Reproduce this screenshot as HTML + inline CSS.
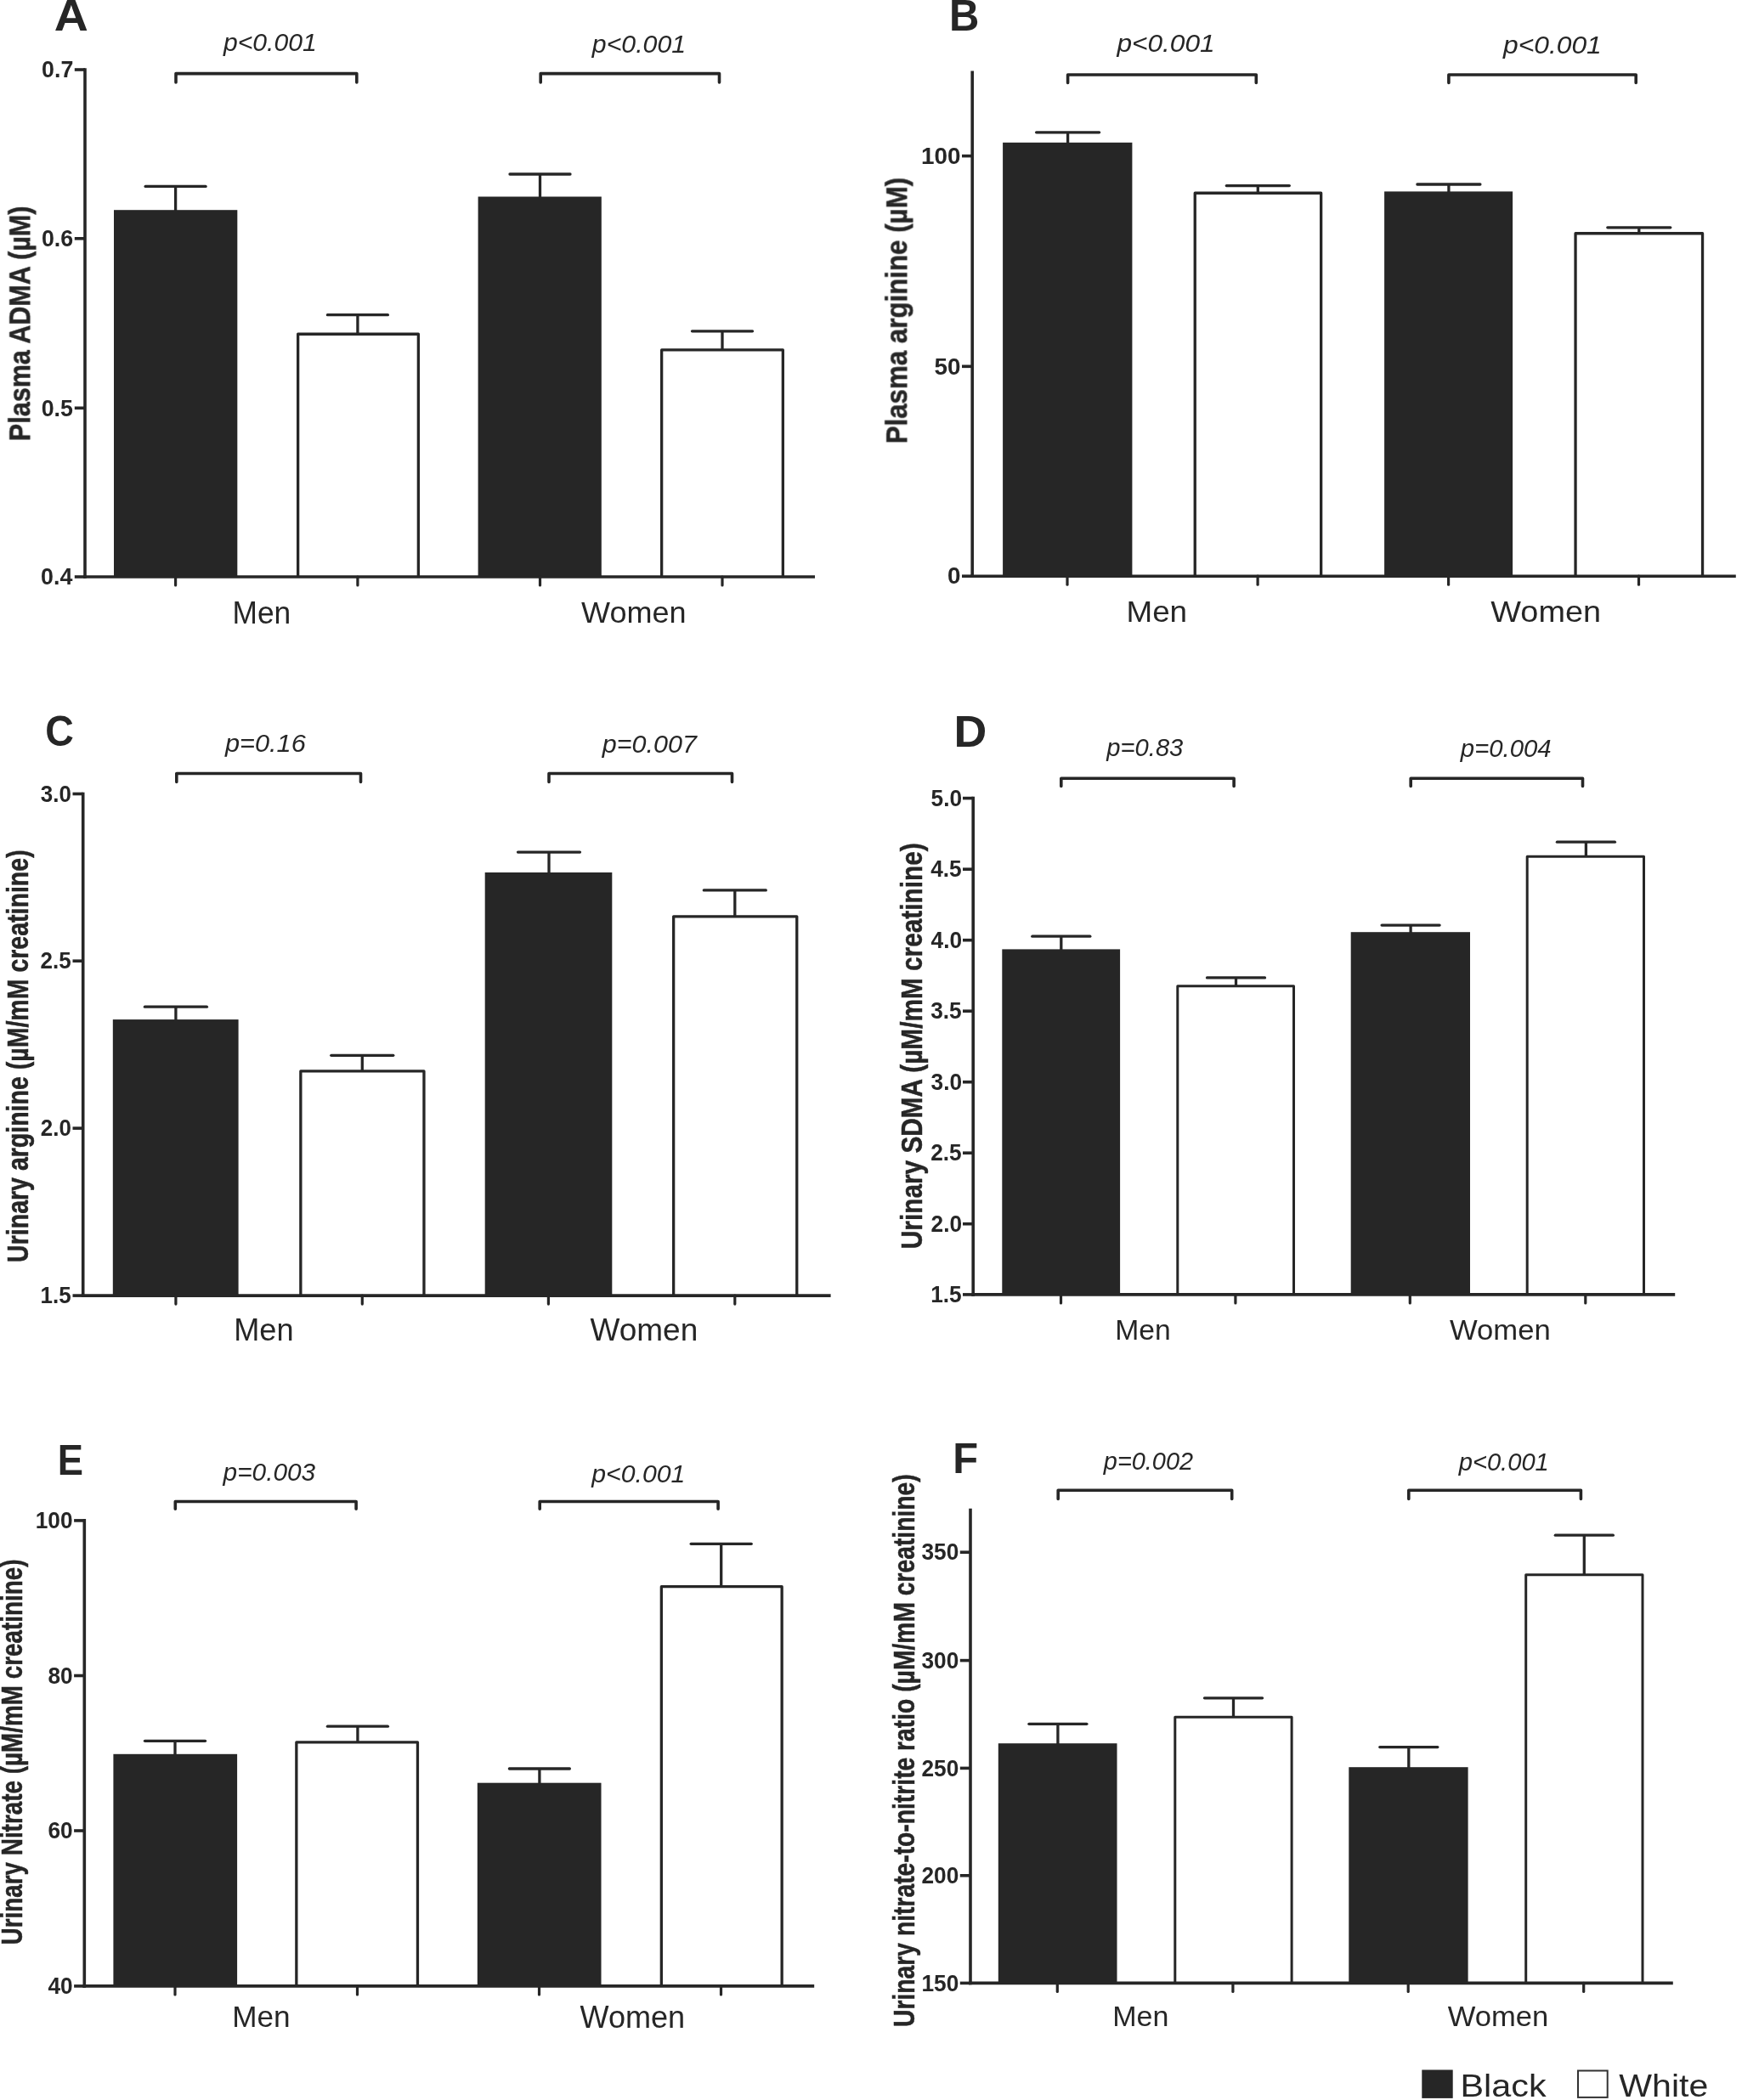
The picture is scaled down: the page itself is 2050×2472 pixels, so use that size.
<!DOCTYPE html>
<html lang="en"><head><meta charset="utf-8"><title>Figure</title>
<style>
html,body{margin:0;padding:0;background:#fff}
svg{display:block}
text{font-family:"Liberation Sans",Arial,Helvetica,sans-serif;}
</style></head><body>
<svg width="2050" height="2472" viewBox="0 0 2050 2472">
<defs><filter id="soft" x="0" y="0" width="2050" height="2472" filterUnits="userSpaceOnUse"><feGaussianBlur stdDeviation="0.5"/></filter></defs>
<rect width="2050" height="2472" fill="#fff"/>
<g filter="url(#soft)">
<rect x="134.00" y="247.20" width="145.30" height="431.80" fill="#262626"/>
<rect x="349.00" y="391.60" width="145.00" height="287.40" fill="#fff"/>
<polyline points="350.65,679.00 350.65,393.25 492.35,393.25 492.35,679.00" fill="none" stroke="#262626" stroke-width="3.3" stroke-linejoin="round"/>
<rect x="562.60" y="231.50" width="145.20" height="447.50" fill="#262626"/>
<rect x="777.00" y="410.30" width="146.00" height="268.70" fill="#fff"/>
<polyline points="778.65,679.00 778.65,411.95 921.35,411.95 921.35,679.00" fill="none" stroke="#262626" stroke-width="3.3" stroke-linejoin="round"/>
<line x1="206.60" y1="219.40" x2="206.60" y2="248.20" stroke="#262626" stroke-width="3.3" stroke-linecap="butt"/>
<line x1="171.10" y1="219.40" x2="242.10" y2="219.40" stroke="#262626" stroke-width="3.3" stroke-linecap="round"/>
<line x1="420.90" y1="370.70" x2="420.90" y2="392.60" stroke="#262626" stroke-width="3.3" stroke-linecap="butt"/>
<line x1="385.40" y1="370.70" x2="456.40" y2="370.70" stroke="#262626" stroke-width="3.3" stroke-linecap="round"/>
<line x1="635.50" y1="205.00" x2="635.50" y2="232.50" stroke="#262626" stroke-width="3.3" stroke-linecap="butt"/>
<line x1="600.00" y1="205.00" x2="671.00" y2="205.00" stroke="#262626" stroke-width="3.3" stroke-linecap="round"/>
<line x1="850.00" y1="389.80" x2="850.00" y2="411.30" stroke="#262626" stroke-width="3.3" stroke-linecap="butt"/>
<line x1="814.50" y1="389.80" x2="885.50" y2="389.80" stroke="#262626" stroke-width="3.3" stroke-linecap="round"/>
<line x1="100.00" y1="80.20" x2="100.00" y2="680.80" stroke="#262626" stroke-width="3.6" stroke-linecap="butt"/>
<line x1="98.20" y1="679.00" x2="959.00" y2="679.00" stroke="#262626" stroke-width="3.6" stroke-linecap="butt"/>
<line x1="87.80" y1="82.00" x2="100.00" y2="82.00" stroke="#262626" stroke-width="3.6" stroke-linecap="butt"/>
<text transform="translate(49.09,91.27) scale(1.0000,1)" font-size="26.8" font-weight="700" fill="#262626">0.7</text>
<line x1="87.80" y1="280.80" x2="100.00" y2="280.80" stroke="#262626" stroke-width="3.6" stroke-linecap="butt"/>
<text transform="translate(48.89,290.07) scale(1.0000,1)" font-size="26.8" font-weight="700" fill="#262626">0.6</text>
<line x1="87.80" y1="480.30" x2="100.00" y2="480.30" stroke="#262626" stroke-width="3.6" stroke-linecap="butt"/>
<text transform="translate(48.69,489.57) scale(1.0000,1)" font-size="26.8" font-weight="700" fill="#262626">0.5</text>
<line x1="87.80" y1="679.00" x2="100.00" y2="679.00" stroke="#262626" stroke-width="3.6" stroke-linecap="butt"/>
<text transform="translate(48.08,688.27) scale(1.0000,1)" font-size="26.8" font-weight="700" fill="#262626">0.4</text>
<line x1="206.60" y1="679.00" x2="206.60" y2="689.00" stroke="#262626" stroke-width="3.2" stroke-linecap="round"/>
<line x1="420.90" y1="679.00" x2="420.90" y2="689.00" stroke="#262626" stroke-width="3.2" stroke-linecap="round"/>
<line x1="635.50" y1="679.00" x2="635.50" y2="689.00" stroke="#262626" stroke-width="3.2" stroke-linecap="round"/>
<line x1="850.00" y1="679.00" x2="850.00" y2="689.00" stroke="#262626" stroke-width="3.2" stroke-linecap="round"/>
<polyline points="207.00,97.00 207.00,86.60 419.80,86.60 419.80,97.00" fill="none" stroke="#262626" stroke-width="3.6" stroke-linejoin="round" stroke-linecap="round"/>
<polyline points="636.20,97.00 636.20,86.60 846.50,86.60 846.50,97.00" fill="none" stroke="#262626" stroke-width="3.6" stroke-linejoin="round" stroke-linecap="round"/>
<text transform="translate(263.05,60.20) scale(1.0033,1)" font-size="30" font-style="italic" fill="#262626">p&lt;0.001</text>
<text transform="translate(696.86,61.80) scale(1.0088,1)" font-size="30" font-style="italic" fill="#262626">p&lt;0.001</text>
<text transform="translate(273.48,733.50) scale(0.9815,1)" font-size="36"  fill="#262626">Men</text>
<text transform="translate(684.12,733.30) scale(1.0011,1)" font-size="36"  fill="#262626">Women</text>
<text transform="translate(35.30,519.06) rotate(-90) scale(0.8578,1)" font-size="35.6" font-weight="700" fill="#262626" stroke="#262626" stroke-width="0.45" vector-effect="non-scaling-stroke">Plasma ADMA (µM)</text>
<text transform="translate(63.71,35.95) scale(1.0677,1)" font-size="52" font-weight="700" fill="#262626">A</text>
<rect x="1180.10" y="167.80" width="152.30" height="510.40" fill="#262626"/>
<rect x="1404.60" y="225.60" width="151.70" height="452.60" fill="#fff"/>
<polyline points="1406.25,678.20 1406.25,227.25 1554.65,227.25 1554.65,678.20" fill="none" stroke="#262626" stroke-width="3.3" stroke-linejoin="round"/>
<rect x="1629.10" y="225.40" width="151.00" height="452.80" fill="#262626"/>
<rect x="1852.40" y="273.10" width="152.80" height="405.10" fill="#fff"/>
<polyline points="1854.05,678.20 1854.05,274.75 2003.55,274.75 2003.55,678.20" fill="none" stroke="#262626" stroke-width="3.3" stroke-linejoin="round"/>
<line x1="1256.60" y1="155.80" x2="1256.60" y2="168.80" stroke="#262626" stroke-width="3.3" stroke-linecap="butt"/>
<line x1="1219.60" y1="155.80" x2="1293.60" y2="155.80" stroke="#262626" stroke-width="3.3" stroke-linecap="round"/>
<line x1="1480.30" y1="218.60" x2="1480.30" y2="226.60" stroke="#262626" stroke-width="3.3" stroke-linecap="butt"/>
<line x1="1443.30" y1="218.60" x2="1517.30" y2="218.60" stroke="#262626" stroke-width="3.3" stroke-linecap="round"/>
<line x1="1704.90" y1="217.00" x2="1704.90" y2="226.40" stroke="#262626" stroke-width="3.3" stroke-linecap="butt"/>
<line x1="1667.90" y1="217.00" x2="1741.90" y2="217.00" stroke="#262626" stroke-width="3.3" stroke-linecap="round"/>
<line x1="1928.80" y1="267.80" x2="1928.80" y2="274.10" stroke="#262626" stroke-width="3.3" stroke-linecap="butt"/>
<line x1="1891.80" y1="267.80" x2="1965.80" y2="267.80" stroke="#262626" stroke-width="3.3" stroke-linecap="round"/>
<line x1="1144.20" y1="83.60" x2="1144.20" y2="680.00" stroke="#262626" stroke-width="3.6" stroke-linecap="butt"/>
<line x1="1142.40" y1="678.20" x2="2042.80" y2="678.20" stroke="#262626" stroke-width="3.6" stroke-linecap="butt"/>
<line x1="1132.00" y1="183.60" x2="1144.20" y2="183.60" stroke="#262626" stroke-width="3.6" stroke-linecap="butt"/>
<text transform="translate(1084.04,192.87) scale(1.0400,1)" font-size="26.8" font-weight="700" fill="#262626">100</text>
<line x1="1132.00" y1="431.30" x2="1144.20" y2="431.30" stroke="#262626" stroke-width="3.6" stroke-linecap="butt"/>
<text transform="translate(1099.58,440.57) scale(1.0400,1)" font-size="26.8" font-weight="700" fill="#262626">50</text>
<line x1="1132.00" y1="678.20" x2="1144.20" y2="678.20" stroke="#262626" stroke-width="3.6" stroke-linecap="butt"/>
<text transform="translate(1115.05,687.47) scale(1.0400,1)" font-size="26.8" font-weight="700" fill="#262626">0</text>
<line x1="1256.00" y1="678.20" x2="1256.00" y2="688.20" stroke="#262626" stroke-width="3.2" stroke-linecap="round"/>
<line x1="1480.10" y1="678.20" x2="1480.10" y2="688.20" stroke="#262626" stroke-width="3.2" stroke-linecap="round"/>
<line x1="1704.60" y1="678.20" x2="1704.60" y2="688.20" stroke="#262626" stroke-width="3.2" stroke-linecap="round"/>
<line x1="1928.50" y1="678.20" x2="1928.50" y2="688.20" stroke="#262626" stroke-width="3.2" stroke-linecap="round"/>
<polyline points="1256.60,97.50 1256.60,88.00 1478.30,88.00 1478.30,97.50" fill="none" stroke="#262626" stroke-width="3.6" stroke-linejoin="round" stroke-linecap="round"/>
<polyline points="1704.90,97.50 1704.90,88.00 1925.20,88.00 1925.20,97.50" fill="none" stroke="#262626" stroke-width="3.6" stroke-linejoin="round" stroke-linecap="round"/>
<text transform="translate(1314.39,61.30) scale(1.0544,1)" font-size="30" font-style="italic" fill="#262626">p&lt;0.001</text>
<text transform="translate(1768.99,63.30) scale(1.0600,1)" font-size="30" font-style="italic" fill="#262626">p&lt;0.001</text>
<text transform="translate(1325.46,732.20) scale(1.0231,1)" font-size="36"  fill="#262626">Men</text>
<text transform="translate(1754.31,732.20) scale(1.0515,1)" font-size="36"  fill="#262626">Women</text>
<text transform="translate(1067.30,522.41) rotate(-90) scale(0.8789,1)" font-size="35.6" font-weight="700" fill="#262626" stroke="#262626" stroke-width="0.45" vector-effect="non-scaling-stroke">Plasma arginine (µM)</text>
<text transform="translate(1117.09,35.80) scale(0.9611,1)" font-size="51" font-weight="700" fill="#262626">B</text>
<rect x="132.80" y="1200.10" width="147.80" height="325.00" fill="#262626"/>
<rect x="352.20" y="1259.30" width="148.40" height="265.80" fill="#fff"/>
<polyline points="353.85,1525.10 353.85,1260.95 498.95,1260.95 498.95,1525.10" fill="none" stroke="#262626" stroke-width="3.3" stroke-linejoin="round"/>
<rect x="570.70" y="1027.00" width="149.60" height="498.10" fill="#262626"/>
<rect x="791.00" y="1077.20" width="148.40" height="447.90" fill="#fff"/>
<polyline points="792.65,1525.10 792.65,1078.85 937.75,1078.85 937.75,1525.10" fill="none" stroke="#262626" stroke-width="3.3" stroke-linejoin="round"/>
<line x1="206.90" y1="1185.20" x2="206.90" y2="1201.10" stroke="#262626" stroke-width="3.3" stroke-linecap="butt"/>
<line x1="170.40" y1="1185.20" x2="243.40" y2="1185.20" stroke="#262626" stroke-width="3.3" stroke-linecap="round"/>
<line x1="426.30" y1="1242.30" x2="426.30" y2="1260.30" stroke="#262626" stroke-width="3.3" stroke-linecap="butt"/>
<line x1="389.80" y1="1242.30" x2="462.80" y2="1242.30" stroke="#262626" stroke-width="3.3" stroke-linecap="round"/>
<line x1="646.00" y1="1003.10" x2="646.00" y2="1028.00" stroke="#262626" stroke-width="3.3" stroke-linecap="butt"/>
<line x1="609.50" y1="1003.10" x2="682.50" y2="1003.10" stroke="#262626" stroke-width="3.3" stroke-linecap="round"/>
<line x1="864.80" y1="1047.90" x2="864.80" y2="1078.20" stroke="#262626" stroke-width="3.3" stroke-linecap="butt"/>
<line x1="828.30" y1="1047.90" x2="901.30" y2="1047.90" stroke="#262626" stroke-width="3.3" stroke-linecap="round"/>
<line x1="97.70" y1="932.70" x2="97.70" y2="1526.90" stroke="#262626" stroke-width="3.6" stroke-linecap="butt"/>
<line x1="95.90" y1="1525.10" x2="977.60" y2="1525.10" stroke="#262626" stroke-width="3.6" stroke-linecap="butt"/>
<line x1="85.50" y1="934.50" x2="97.70" y2="934.50" stroke="#262626" stroke-width="3.6" stroke-linecap="butt"/>
<text transform="translate(47.81,943.77) scale(0.9700,1)" font-size="26.8" font-weight="700" fill="#262626">3.0</text>
<line x1="85.50" y1="1131.20" x2="97.70" y2="1131.20" stroke="#262626" stroke-width="3.6" stroke-linecap="butt"/>
<text transform="translate(47.48,1140.47) scale(0.9700,1)" font-size="26.8" font-weight="700" fill="#262626">2.5</text>
<line x1="85.50" y1="1328.10" x2="97.70" y2="1328.10" stroke="#262626" stroke-width="3.6" stroke-linecap="butt"/>
<text transform="translate(47.81,1337.37) scale(0.9700,1)" font-size="26.8" font-weight="700" fill="#262626">2.0</text>
<line x1="85.50" y1="1525.10" x2="97.70" y2="1525.10" stroke="#262626" stroke-width="3.6" stroke-linecap="butt"/>
<text transform="translate(47.48,1534.37) scale(0.9700,1)" font-size="26.8" font-weight="700" fill="#262626">1.5</text>
<line x1="206.90" y1="1525.10" x2="206.90" y2="1535.10" stroke="#262626" stroke-width="3.2" stroke-linecap="round"/>
<line x1="426.30" y1="1525.10" x2="426.30" y2="1535.10" stroke="#262626" stroke-width="3.2" stroke-linecap="round"/>
<line x1="645.40" y1="1525.10" x2="645.40" y2="1535.10" stroke="#262626" stroke-width="3.2" stroke-linecap="round"/>
<line x1="864.80" y1="1525.10" x2="864.80" y2="1535.10" stroke="#262626" stroke-width="3.2" stroke-linecap="round"/>
<polyline points="207.80,920.50 207.80,910.50 424.50,910.50 424.50,920.50" fill="none" stroke="#262626" stroke-width="3.6" stroke-linejoin="round" stroke-linecap="round"/>
<polyline points="646.00,920.50 646.00,910.50 861.50,910.50 861.50,920.50" fill="none" stroke="#262626" stroke-width="3.6" stroke-linejoin="round" stroke-linecap="round"/>
<text transform="translate(264.97,884.60) scale(1.0236,1)" font-size="30" font-style="italic" fill="#262626">p=0.16</text>
<text transform="translate(708.86,886.10) scale(1.0162,1)" font-size="30" font-style="italic" fill="#262626">p=0.007</text>
<text transform="translate(275.22,1578.20) scale(1.0046,1)" font-size="36"  fill="#262626">Men</text>
<text transform="translate(694.42,1578.20) scale(1.0276,1)" font-size="36"  fill="#262626">Women</text>
<text transform="translate(33.40,1485.91) rotate(-90) scale(0.8014,1)" font-size="35.6" font-weight="700" fill="#262626" stroke="#262626" stroke-width="0.45" vector-effect="non-scaling-stroke">Urinary arginine (µM/mM creatinine)</text>
<text transform="translate(53.34,877.90) scale(0.9313,1)" font-size="50" font-weight="700" fill="#262626">C</text>
<rect x="1179.30" y="1117.40" width="138.80" height="406.50" fill="#262626"/>
<rect x="1384.30" y="1159.30" width="139.70" height="364.60" fill="#fff"/>
<polyline points="1385.80,1523.90 1385.80,1160.80 1522.50,1160.80 1522.50,1523.90" fill="none" stroke="#262626" stroke-width="3.0" stroke-linejoin="round"/>
<rect x="1589.70" y="1097.20" width="140.30" height="426.70" fill="#262626"/>
<rect x="1795.70" y="1006.70" width="140.30" height="517.20" fill="#fff"/>
<polyline points="1797.20,1523.90 1797.20,1008.20 1934.50,1008.20 1934.50,1523.90" fill="none" stroke="#262626" stroke-width="3.0" stroke-linejoin="round"/>
<line x1="1248.80" y1="1102.20" x2="1248.80" y2="1118.40" stroke="#262626" stroke-width="3.3" stroke-linecap="butt"/>
<line x1="1214.80" y1="1102.20" x2="1282.80" y2="1102.20" stroke="#262626" stroke-width="3.3" stroke-linecap="round"/>
<line x1="1454.50" y1="1150.90" x2="1454.50" y2="1160.30" stroke="#262626" stroke-width="3.3" stroke-linecap="butt"/>
<line x1="1420.50" y1="1150.90" x2="1488.50" y2="1150.90" stroke="#262626" stroke-width="3.3" stroke-linecap="round"/>
<line x1="1660.10" y1="1089.10" x2="1660.10" y2="1098.20" stroke="#262626" stroke-width="3.3" stroke-linecap="butt"/>
<line x1="1626.10" y1="1089.10" x2="1694.10" y2="1089.10" stroke="#262626" stroke-width="3.3" stroke-linecap="round"/>
<line x1="1866.40" y1="991.20" x2="1866.40" y2="1007.70" stroke="#262626" stroke-width="3.3" stroke-linecap="butt"/>
<line x1="1832.40" y1="991.20" x2="1900.40" y2="991.20" stroke="#262626" stroke-width="3.3" stroke-linecap="round"/>
<line x1="1145.20" y1="937.80" x2="1145.20" y2="1525.70" stroke="#262626" stroke-width="3.6" stroke-linecap="butt"/>
<line x1="1143.40" y1="1523.90" x2="1971.20" y2="1523.90" stroke="#262626" stroke-width="3.6" stroke-linecap="butt"/>
<line x1="1133.00" y1="939.60" x2="1145.20" y2="939.60" stroke="#262626" stroke-width="3.6" stroke-linecap="butt"/>
<text transform="translate(1095.54,948.87) scale(0.9800,1)" font-size="26.8" font-weight="700" fill="#262626">5.0</text>
<line x1="1133.00" y1="1023.20" x2="1145.20" y2="1023.20" stroke="#262626" stroke-width="3.6" stroke-linecap="butt"/>
<text transform="translate(1095.22,1032.47) scale(0.9800,1)" font-size="26.8" font-weight="700" fill="#262626">4.5</text>
<line x1="1133.00" y1="1106.70" x2="1145.20" y2="1106.70" stroke="#262626" stroke-width="3.6" stroke-linecap="butt"/>
<text transform="translate(1095.54,1115.97) scale(0.9800,1)" font-size="26.8" font-weight="700" fill="#262626">4.0</text>
<line x1="1133.00" y1="1190.20" x2="1145.20" y2="1190.20" stroke="#262626" stroke-width="3.6" stroke-linecap="butt"/>
<text transform="translate(1095.22,1199.47) scale(0.9800,1)" font-size="26.8" font-weight="700" fill="#262626">3.5</text>
<line x1="1133.00" y1="1273.70" x2="1145.20" y2="1273.70" stroke="#262626" stroke-width="3.6" stroke-linecap="butt"/>
<text transform="translate(1095.54,1282.97) scale(0.9800,1)" font-size="26.8" font-weight="700" fill="#262626">3.0</text>
<line x1="1133.00" y1="1357.20" x2="1145.20" y2="1357.20" stroke="#262626" stroke-width="3.6" stroke-linecap="butt"/>
<text transform="translate(1095.22,1366.47) scale(0.9800,1)" font-size="26.8" font-weight="700" fill="#262626">2.5</text>
<line x1="1133.00" y1="1440.70" x2="1145.20" y2="1440.70" stroke="#262626" stroke-width="3.6" stroke-linecap="butt"/>
<text transform="translate(1095.54,1449.97) scale(0.9800,1)" font-size="26.8" font-weight="700" fill="#262626">2.0</text>
<line x1="1133.00" y1="1523.90" x2="1145.20" y2="1523.90" stroke="#262626" stroke-width="3.6" stroke-linecap="butt"/>
<text transform="translate(1095.22,1533.17) scale(0.9800,1)" font-size="26.8" font-weight="700" fill="#262626">1.5</text>
<line x1="1248.50" y1="1523.90" x2="1248.50" y2="1533.90" stroke="#262626" stroke-width="3.2" stroke-linecap="round"/>
<line x1="1453.90" y1="1523.90" x2="1453.90" y2="1533.90" stroke="#262626" stroke-width="3.2" stroke-linecap="round"/>
<line x1="1659.30" y1="1523.90" x2="1659.30" y2="1533.90" stroke="#262626" stroke-width="3.2" stroke-linecap="round"/>
<line x1="1865.80" y1="1523.90" x2="1865.80" y2="1533.90" stroke="#262626" stroke-width="3.2" stroke-linecap="round"/>
<polyline points="1248.80,925.50 1248.80,916.30 1452.10,916.30 1452.10,925.50" fill="none" stroke="#262626" stroke-width="3.6" stroke-linejoin="round" stroke-linecap="round"/>
<polyline points="1660.20,925.50 1660.20,916.30 1862.50,916.30 1862.50,925.50" fill="none" stroke="#262626" stroke-width="3.6" stroke-linejoin="round" stroke-linecap="round"/>
<text transform="translate(1302.33,889.70) scale(1.0128,1)" font-size="28.8" font-style="italic" fill="#262626">p=0.83</text>
<text transform="translate(1718.83,891.20) scale(1.0187,1)" font-size="28.8" font-style="italic" fill="#262626">p=0.004</text>
<text transform="translate(1312.32,1576.70) scale(0.9902,1)" font-size="34"  fill="#262626">Men</text>
<text transform="translate(1705.93,1576.70) scale(1.0197,1)" font-size="34"  fill="#262626">Women</text>
<text transform="translate(1085.20,1470.19) rotate(-90) scale(0.8371,1)" font-size="35.6" font-weight="700" fill="#262626" stroke="#262626" stroke-width="0.45" vector-effect="non-scaling-stroke">Urinary SDMA (µM/mM creatinine)</text>
<text transform="translate(1122.47,879.30) scale(1.0532,1)" font-size="51" font-weight="700" fill="#262626">D</text>
<rect x="133.40" y="2064.80" width="145.70" height="273.10" fill="#262626"/>
<rect x="347.20" y="2049.30" width="145.90" height="288.60" fill="#fff"/>
<polyline points="348.85,2337.90 348.85,2050.95 491.45,2050.95 491.45,2337.90" fill="none" stroke="#262626" stroke-width="3.3" stroke-linejoin="round"/>
<rect x="561.80" y="2098.70" width="145.70" height="239.20" fill="#262626"/>
<rect x="776.70" y="1866.00" width="145.10" height="471.90" fill="#fff"/>
<polyline points="778.35,2337.90 778.35,1867.65 920.15,1867.65 920.15,2337.90" fill="none" stroke="#262626" stroke-width="3.3" stroke-linejoin="round"/>
<line x1="206.00" y1="2049.30" x2="206.00" y2="2065.80" stroke="#262626" stroke-width="3.3" stroke-linecap="butt"/>
<line x1="170.50" y1="2049.30" x2="241.50" y2="2049.30" stroke="#262626" stroke-width="3.3" stroke-linecap="round"/>
<line x1="420.90" y1="2032.20" x2="420.90" y2="2050.30" stroke="#262626" stroke-width="3.3" stroke-linecap="butt"/>
<line x1="385.40" y1="2032.20" x2="456.40" y2="2032.20" stroke="#262626" stroke-width="3.3" stroke-linecap="round"/>
<line x1="634.90" y1="2082.00" x2="634.90" y2="2099.70" stroke="#262626" stroke-width="3.3" stroke-linecap="butt"/>
<line x1="599.40" y1="2082.00" x2="670.40" y2="2082.00" stroke="#262626" stroke-width="3.3" stroke-linecap="round"/>
<line x1="848.70" y1="1817.30" x2="848.70" y2="1867.00" stroke="#262626" stroke-width="3.3" stroke-linecap="butt"/>
<line x1="813.20" y1="1817.30" x2="884.20" y2="1817.30" stroke="#262626" stroke-width="3.3" stroke-linecap="round"/>
<line x1="99.30" y1="1788.10" x2="99.30" y2="2339.70" stroke="#262626" stroke-width="3.6" stroke-linecap="butt"/>
<line x1="97.50" y1="2337.90" x2="958.20" y2="2337.90" stroke="#262626" stroke-width="3.6" stroke-linecap="butt"/>
<line x1="87.10" y1="1789.90" x2="99.30" y2="1789.90" stroke="#262626" stroke-width="3.6" stroke-linecap="butt"/>
<text transform="translate(41.76,1799.17) scale(0.9800,1)" font-size="26.8" font-weight="700" fill="#262626">100</text>
<line x1="87.10" y1="1972.50" x2="99.30" y2="1972.50" stroke="#262626" stroke-width="3.6" stroke-linecap="butt"/>
<text transform="translate(56.40,1981.77) scale(0.9800,1)" font-size="26.8" font-weight="700" fill="#262626">80</text>
<line x1="87.10" y1="2155.00" x2="99.30" y2="2155.00" stroke="#262626" stroke-width="3.6" stroke-linecap="butt"/>
<text transform="translate(56.40,2164.27) scale(0.9800,1)" font-size="26.8" font-weight="700" fill="#262626">60</text>
<line x1="87.10" y1="2337.90" x2="99.30" y2="2337.90" stroke="#262626" stroke-width="3.6" stroke-linecap="butt"/>
<text transform="translate(56.40,2347.17) scale(0.9800,1)" font-size="26.8" font-weight="700" fill="#262626">40</text>
<line x1="206.00" y1="2337.90" x2="206.00" y2="2347.90" stroke="#262626" stroke-width="3.2" stroke-linecap="round"/>
<line x1="420.50" y1="2337.90" x2="420.50" y2="2347.90" stroke="#262626" stroke-width="3.2" stroke-linecap="round"/>
<line x1="634.50" y1="2337.90" x2="634.50" y2="2347.90" stroke="#262626" stroke-width="3.2" stroke-linecap="round"/>
<line x1="848.50" y1="2337.90" x2="848.50" y2="2347.90" stroke="#262626" stroke-width="3.2" stroke-linecap="round"/>
<polyline points="206.30,1776.30 206.30,1767.50 419.10,1767.50 419.10,1776.30" fill="none" stroke="#262626" stroke-width="3.6" stroke-linejoin="round" stroke-linecap="round"/>
<polyline points="635.20,1776.30 635.20,1767.50 845.10,1767.50 845.10,1776.30" fill="none" stroke="#262626" stroke-width="3.6" stroke-linejoin="round" stroke-linecap="round"/>
<text transform="translate(262.55,1743.30) scale(0.9945,1)" font-size="30" font-style="italic" fill="#262626">p=0.003</text>
<text transform="translate(696.26,1744.80) scale(1.0079,1)" font-size="30" font-style="italic" fill="#262626">p&lt;0.001</text>
<text transform="translate(273.20,2386.30) scale(0.9769,1)" font-size="36"  fill="#262626">Men</text>
<text transform="translate(682.52,2386.60) scale(1.0027,1)" font-size="36"  fill="#262626">Women</text>
<text transform="translate(26.30,2289.47) rotate(-90) scale(0.7825,1)" font-size="35.6" font-weight="700" fill="#262626" stroke="#262626" stroke-width="0.45" vector-effect="non-scaling-stroke">Urinary Nitrate (µM/mM creatinine)</text>
<text transform="translate(67.64,1736.10) scale(0.9071,1)" font-size="50" font-weight="700" fill="#262626">E</text>
<rect x="1174.80" y="2052.20" width="139.70" height="282.20" fill="#262626"/>
<rect x="1381.30" y="2019.70" width="140.30" height="314.70" fill="#fff"/>
<polyline points="1382.80,2334.40 1382.80,2021.20 1520.10,2021.20 1520.10,2334.40" fill="none" stroke="#262626" stroke-width="3.0" stroke-linejoin="round"/>
<rect x="1587.30" y="2080.20" width="140.30" height="254.20" fill="#262626"/>
<rect x="1794.20" y="1852.20" width="140.30" height="482.20" fill="#fff"/>
<polyline points="1795.70,2334.40 1795.70,1853.70 1933.00,1853.70 1933.00,2334.40" fill="none" stroke="#262626" stroke-width="3.0" stroke-linejoin="round"/>
<line x1="1244.90" y1="2029.30" x2="1244.90" y2="2053.20" stroke="#262626" stroke-width="3.3" stroke-linecap="butt"/>
<line x1="1210.90" y1="2029.30" x2="1278.90" y2="2029.30" stroke="#262626" stroke-width="3.3" stroke-linecap="round"/>
<line x1="1451.50" y1="1998.80" x2="1451.50" y2="2020.70" stroke="#262626" stroke-width="3.3" stroke-linecap="butt"/>
<line x1="1417.50" y1="1998.80" x2="1485.50" y2="1998.80" stroke="#262626" stroke-width="3.3" stroke-linecap="round"/>
<line x1="1657.80" y1="2056.60" x2="1657.80" y2="2081.20" stroke="#262626" stroke-width="3.3" stroke-linecap="butt"/>
<line x1="1623.80" y1="2056.60" x2="1691.80" y2="2056.60" stroke="#262626" stroke-width="3.3" stroke-linecap="round"/>
<line x1="1864.30" y1="1807.20" x2="1864.30" y2="1853.20" stroke="#262626" stroke-width="3.3" stroke-linecap="butt"/>
<line x1="1830.30" y1="1807.20" x2="1898.30" y2="1807.20" stroke="#262626" stroke-width="3.3" stroke-linecap="round"/>
<line x1="1142.00" y1="1775.80" x2="1142.00" y2="2336.20" stroke="#262626" stroke-width="3.6" stroke-linecap="butt"/>
<line x1="1140.20" y1="2334.40" x2="1968.80" y2="2334.40" stroke="#262626" stroke-width="3.6" stroke-linecap="butt"/>
<line x1="1129.80" y1="1827.20" x2="1142.00" y2="1827.20" stroke="#262626" stroke-width="3.6" stroke-linecap="butt"/>
<text transform="translate(1084.46,1836.47) scale(0.9800,1)" font-size="26.8" font-weight="700" fill="#262626">350</text>
<line x1="1129.80" y1="1954.60" x2="1142.00" y2="1954.60" stroke="#262626" stroke-width="3.6" stroke-linecap="butt"/>
<text transform="translate(1084.46,1963.87) scale(0.9800,1)" font-size="26.8" font-weight="700" fill="#262626">300</text>
<line x1="1129.80" y1="2081.40" x2="1142.00" y2="2081.40" stroke="#262626" stroke-width="3.6" stroke-linecap="butt"/>
<text transform="translate(1084.46,2090.67) scale(0.9800,1)" font-size="26.8" font-weight="700" fill="#262626">250</text>
<line x1="1129.80" y1="2207.80" x2="1142.00" y2="2207.80" stroke="#262626" stroke-width="3.6" stroke-linecap="butt"/>
<text transform="translate(1084.46,2217.07) scale(0.9800,1)" font-size="26.8" font-weight="700" fill="#262626">200</text>
<line x1="1129.80" y1="2334.40" x2="1142.00" y2="2334.40" stroke="#262626" stroke-width="3.6" stroke-linecap="butt"/>
<text transform="translate(1084.46,2343.67) scale(0.9800,1)" font-size="26.8" font-weight="700" fill="#262626">150</text>
<line x1="1244.30" y1="2334.40" x2="1244.30" y2="2344.40" stroke="#262626" stroke-width="3.2" stroke-linecap="round"/>
<line x1="1450.90" y1="2334.40" x2="1450.90" y2="2344.40" stroke="#262626" stroke-width="3.2" stroke-linecap="round"/>
<line x1="1657.20" y1="2334.40" x2="1657.20" y2="2344.40" stroke="#262626" stroke-width="3.2" stroke-linecap="round"/>
<line x1="1863.70" y1="2334.40" x2="1863.70" y2="2344.40" stroke="#262626" stroke-width="3.2" stroke-linecap="round"/>
<polyline points="1245.20,1764.40 1245.20,1754.30 1449.70,1754.30 1449.70,1764.40" fill="none" stroke="#262626" stroke-width="3.6" stroke-linejoin="round" stroke-linecap="round"/>
<polyline points="1657.80,1764.40 1657.80,1754.30 1860.40,1754.30 1860.40,1764.40" fill="none" stroke="#262626" stroke-width="3.6" stroke-linejoin="round" stroke-linecap="round"/>
<text transform="translate(1298.82,1729.90) scale(1.0032,1)" font-size="28.8" font-style="italic" fill="#262626">p=0.002</text>
<text transform="translate(1716.73,1731.30) scale(1.0112,1)" font-size="28.8" font-style="italic" fill="#262626">p&lt;0.001</text>
<text transform="translate(1309.29,2384.80) scale(1.0000,1)" font-size="34"  fill="#262626">Men</text>
<text transform="translate(1703.83,2384.80) scale(1.0170,1)" font-size="34"  fill="#262626">Women</text>
<text transform="translate(1076.00,2385.90) rotate(-90) scale(0.7944,1)" font-size="35.6" font-weight="700" fill="#262626" stroke="#262626" stroke-width="0.45" vector-effect="non-scaling-stroke">Urinary nitrate-to-nitrite ratio (µM/mM creatinine)</text>
<text transform="translate(1121.30,1733.70) scale(0.9773,1)" font-size="50" font-weight="700" fill="#262626">F</text>
<rect x="1673.3" y="2436.5" width="36.4" height="33.4" fill="#262626"/>
<rect x="1857" y="2437.5" width="34.7" height="31.4" fill="#fff" stroke="#333" stroke-width="2"/>
<text transform="translate(1718.49,2467.50) scale(1.1028,1)" font-size="37.5"  fill="#262626">Black</text>
<text transform="translate(1905.29,2467.50) scale(1.0954,1)" font-size="37.5"  fill="#262626">White</text>
</g>
</svg>
</body></html>
